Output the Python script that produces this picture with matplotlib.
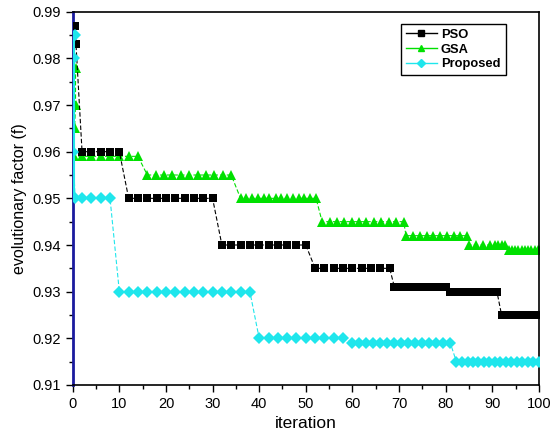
import matplotlib
matplotlib.use("Agg")
import matplotlib.pyplot as plt
from matplotlib.lines import Line2D
from matplotlib.ticker import MultipleLocator

plt.rcParams['font.family'] = ['Liberation Sans', 'DejaVu Sans']

# ---- data ----
pso_x = [0.5, 0.7, 2, 4, 6, 8, 10,
         12, 14, 16, 18, 20, 22, 24, 26, 28, 30,
         32, 34, 36, 38, 40, 42, 44, 46, 48, 50,
         52, 54, 56, 58, 60, 62, 64, 66, 68,
         69, 70, 71, 72, 73, 74, 75, 76, 77, 78, 79, 80,
         81, 82, 83, 84, 85, 86, 87, 88, 89, 90, 91,
         92, 93, 94, 95, 96, 97, 98, 99, 100]
pso_y = [0.987, 0.983, 0.960, 0.960, 0.960, 0.960, 0.960,
         0.950, 0.950, 0.950, 0.950, 0.950, 0.950, 0.950, 0.950, 0.950, 0.950,
         0.940, 0.940, 0.940, 0.940, 0.940, 0.940, 0.940, 0.940, 0.940, 0.940,
         0.935, 0.935, 0.935, 0.935, 0.935, 0.935, 0.935, 0.935, 0.935,
         0.931, 0.931, 0.931, 0.931, 0.931, 0.931, 0.931, 0.931, 0.931, 0.931, 0.931, 0.931,
         0.930, 0.930, 0.930, 0.930, 0.930, 0.930, 0.930, 0.930, 0.930, 0.930, 0.930,
         0.925, 0.925, 0.925, 0.925, 0.925, 0.925, 0.925, 0.925, 0.925]

gsa_x = [0.6, 0.6, 0.4, 0.2, 2, 4, 6, 8, 10, 12, 14,
         16, 17.8, 19.6, 21.4, 23.2, 25, 26.8, 28.6, 30.4, 32.2, 34,
         36, 37.2, 38.5, 39.7, 41, 42.2, 43.5, 44.7, 46, 47.2, 48.5, 49.7, 51, 52.2,
         53.5, 55.1, 56.7, 58.3, 59.9, 61.5, 63, 64.6, 66.2, 67.8, 69.4, 71,
         71.5, 73, 74.4, 75.9, 77.3, 78.8, 80.2, 81.7, 83.1, 84.5,
         85, 86.5, 88, 89.5, 90.5, 91.3, 92, 92.7,
         93.5, 94.2, 94.9, 95.6, 96.3, 97, 97.7, 98.4, 99.1, 99.8, 100]
gsa_y = [0.978, 0.970, 0.965, 0.959, 0.959, 0.959, 0.959, 0.959, 0.959, 0.959, 0.959,
         0.955, 0.955, 0.955, 0.955, 0.955, 0.955, 0.955, 0.955, 0.955, 0.955, 0.955,
         0.950, 0.950, 0.950, 0.950, 0.950, 0.950, 0.950, 0.950, 0.950, 0.950, 0.950, 0.950, 0.950, 0.950,
         0.945, 0.945, 0.945, 0.945, 0.945, 0.945, 0.945, 0.945, 0.945, 0.945, 0.945, 0.945,
         0.942, 0.942, 0.942, 0.942, 0.942, 0.942, 0.942, 0.942, 0.942, 0.942,
         0.940, 0.940, 0.940, 0.940, 0.940, 0.940, 0.940, 0.940,
         0.939, 0.939, 0.939, 0.939, 0.939, 0.939, 0.939, 0.939, 0.939, 0.939, 0.939]

prop_x = [0.4, 0.3, 0.1, 0.5, 2, 4, 6, 8,
          10, 12, 14, 16, 18, 20, 22, 24, 26, 28, 30, 32, 34, 36, 38,
          40, 42, 44, 46, 48, 50, 52, 54, 56, 58,
          60, 61.5, 63, 64.5, 66, 67.5, 69, 70.5, 72, 73.5, 75, 76.5, 78, 79.5, 81,
          82.3, 83.5, 84.7, 85.9, 87, 88.2, 89.4, 90.5, 91.7, 92.9, 94, 95.2, 96.4, 97.6, 98.8, 100]
prop_y = [0.985, 0.980, 0.960, 0.950, 0.950, 0.950, 0.950, 0.950,
          0.930, 0.930, 0.930, 0.930, 0.930, 0.930, 0.930, 0.930, 0.930, 0.930, 0.930, 0.930, 0.930, 0.930, 0.930,
          0.920, 0.920, 0.920, 0.920, 0.920, 0.920, 0.920, 0.920, 0.920, 0.920,
          0.919, 0.919, 0.919, 0.919, 0.919, 0.919, 0.919, 0.919, 0.919, 0.919, 0.919, 0.919, 0.919, 0.919, 0.919,
          0.915, 0.915, 0.915, 0.915, 0.915, 0.915, 0.915, 0.915, 0.915, 0.915, 0.915, 0.915, 0.915, 0.915, 0.915, 0.915]

labels = ["PSO", "GSA", "Proposed"]
colors = ["black", "#00e000", "#1fe6ec"]
markers = ["s", "^", "D"]

fig = plt.figure(figsize=(5.51, 4.41), dpi=100)
ax = fig.add_axes([0.132, 0.127, 0.846, 0.8465])

ax.plot(pso_x, pso_y, color=colors[0], ls=(0, (4, 2)), lw=0.8,
        marker=markers[0], ms=6.2, mew=0, mfc=colors[0], zorder=3)
ax.plot(gsa_x, gsa_y, color=colors[1], ls=(0, (4, 2)), lw=0.8,
        marker=markers[1], ms=6.8, mew=0, mfc=colors[1], zorder=2)
ax.plot(prop_x, prop_y, color=colors[2], ls=(0, (4, 2)), lw=0.8,
        marker=markers[2], ms=6.4, mew=0, mfc=colors[2], zorder=4)
# cyan initial drop line
ax.plot([0.3, 0.3], [0.985, 0.95], color=colors[2], lw=1.5, zorder=4)

ax.set_xlim(0, 100)
ax.set_ylim(0.91, 0.99)
ax.xaxis.set_major_locator(MultipleLocator(10))
ax.xaxis.set_minor_locator(MultipleLocator(5))
ax.yaxis.set_major_locator(MultipleLocator(0.01))
ax.yaxis.set_minor_locator(MultipleLocator(0.005))
ax.yaxis.set_major_formatter(matplotlib.ticker.FormatStrFormatter('%.2f'))
ax.tick_params(which='major', direction='out', length=5, width=1, labelsize=10.5)
ax.tick_params(which='minor', direction='out', length=3, width=1)
ax.tick_params(top=False, right=False)
ax.spines['left'].set_color('#1a1a9e')
ax.spines['left'].set_linewidth(2)
for s in ['top', 'right', 'bottom']:
    ax.spines[s].set_linewidth(1.2)

ax.set_xlabel("iteration", fontsize=12.5)
ax.set_ylabel("evolutionary factor (f)", fontsize=11.5)

handles = [Line2D([0], [0], color=c, marker=m, ms=4, lw=1, mfc=c, mec=c)
           for c, m in zip(colors, markers)]
leg = ax.legend(handles, labels, loc='upper left', bbox_to_anchor=(0.69, 0.985),
                frameon=True, fancybox=False, edgecolor='black', framealpha=1,
                prop={'weight': 'bold', 'size': 9.3}, handlelength=2.4,
                labelspacing=0.2, borderpad=0.4, handletextpad=0.3)
leg.get_frame().set_linewidth(1.0)

fig.savefig("out.png", dpi=100)
